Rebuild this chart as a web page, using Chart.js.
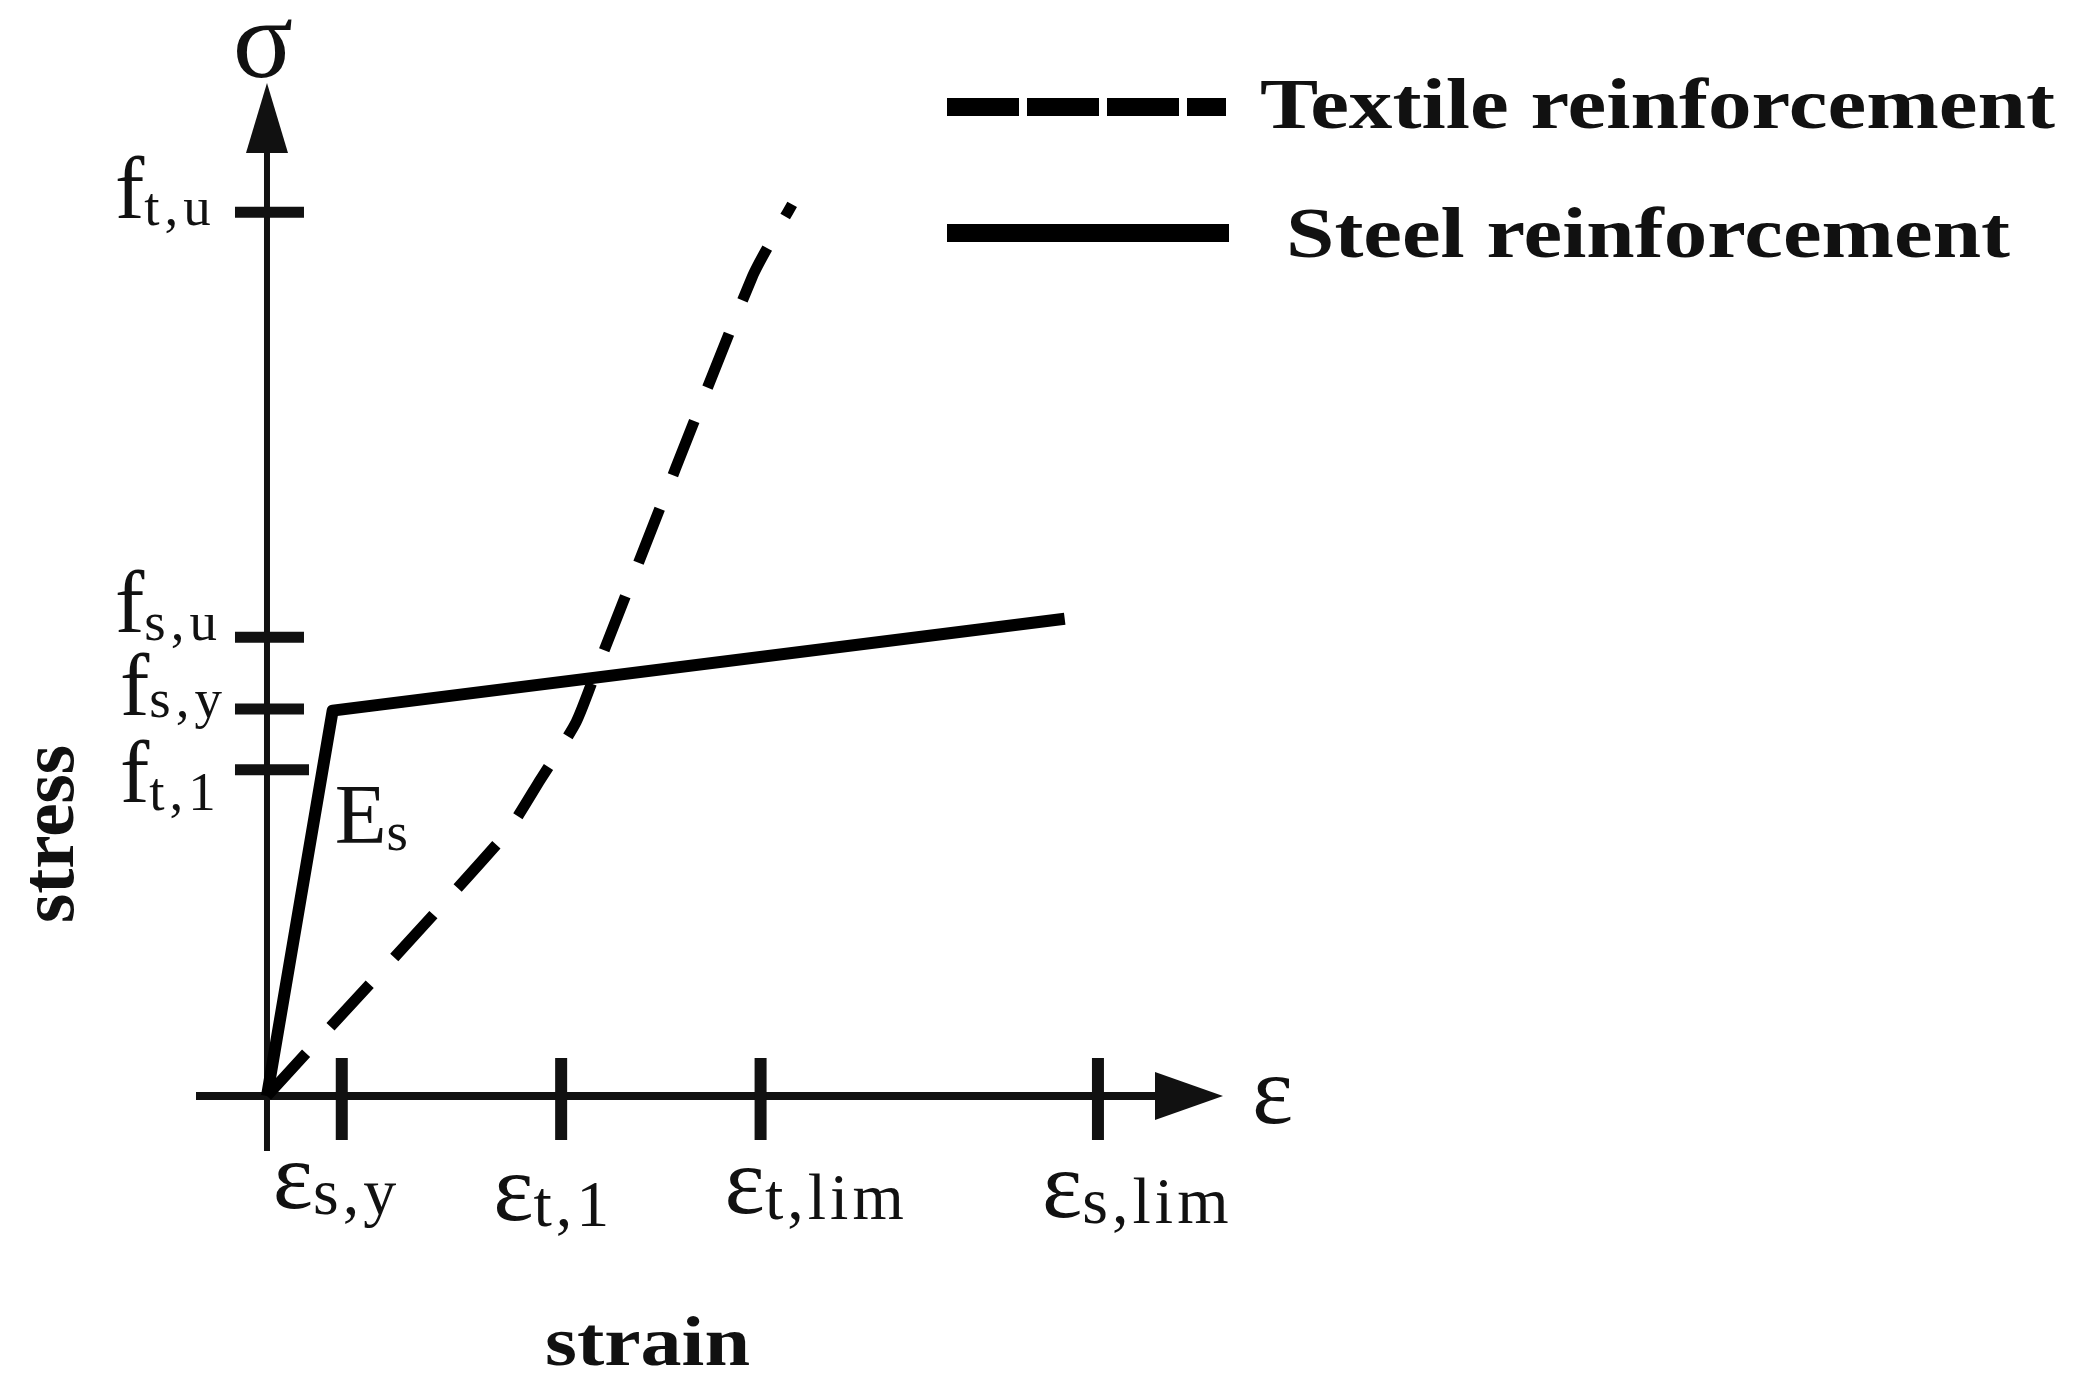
<!DOCTYPE html>
<html>
<head>
<meta charset="utf-8">
<script src="https://cdn.jsdelivr.net/npm/chart.js@4.4.1/dist/chart.umd.min.js"></script>
<style>
    html, body { margin: 0; padding: 0; background: #fff; }
    canvas { display: block; }
</style>
</head>
<body>
<canvas id="grafica" width="2076" height="1398"></canvas>
<script>
// Datos del diagrama (unidades esquemáticas: ε_s,lim = 10, f_t,u = 10)
const strainSteel = [0, 0.79, 9.60];
const stressSteel = [0, 4.36, 5.40];

const strainTextile = [0, 2.86, 3.29, 3.72, 4.01, 5.84, 6.32];
const stressTextile = [0, 2.95, 3.58, 4.23, 4.93, 9.27, 10.09];

const strainTicks = [0.90, 3.54, 5.94, 10.0];
const strainTickSub = ['s,y', 't,1', 't,lim', 's,lim'];

const stressTicks = [10.0, 5.19, 4.38, 3.69];
const stressTickSub = ['t,u', 's,u', 's,y', 't,1'];

const seriesNames = ['Textile reinforcement', 'Steel reinforcement'];

// Rango de las escalas (el área del gráfico ocupa todo el lienzo)
const X_MIN = -3.213, X_MAX = 21.77;
const Y_MIN = -3.418, Y_MAX = 12.402;

// Ajustes de maquetación de las etiquetas (px)
const xLabelDx = [-69, -68, -36, -56];
const xLabelBase = [112, 124, 117, 121];
const yLabelLeft = [115, 115, 120, 120];
const yLabelDy = [6, -5, 6, 32];
const ySubDy = [7, 8, 2, 8];

const SERIF = '"Liberation Serif", "Times New Roman", serif';

function toPoints(xs, ys) {
    return xs.map((x, i) => ({ x: x, y: ys[i] }));
}

function textoSub(ctx, x, y, main, sub, mainSize, subSize, subDy, spacing) {
    ctx.font = `${mainSize}px ${SERIF}`;
    ctx.letterSpacing = '0px';
    ctx.textAlign = 'left';
    ctx.textBaseline = 'alphabetic';
    ctx.fillText(main, x, y);
    const w = ctx.measureText(main).width;
    ctx.font = `${subSize}px ${SERIF}`;
    ctx.letterSpacing = spacing + 'px';
    ctx.fillText(sub, x + w, y + subDy);
    ctx.letterSpacing = '0px';
}

function textoAncho(ctx, txt, x, y, size, width) {
    ctx.font = `bold ${size}px ${SERIF}`;
    const w = ctx.measureText(txt).width;
    ctx.save();
    ctx.translate(x, y);
    ctx.scale(width / w, 1);
    ctx.textAlign = 'left';
    ctx.textBaseline = 'alphabetic';
    ctx.fillText(txt, 0, 0);
    ctx.restore();
}

const ejesPlugin = {
    id: 'ejes',
    beforeDraw(chart) {
        const ctx = chart.ctx;
        ctx.save();
        ctx.fillStyle = '#fff';
        ctx.fillRect(0, 0, chart.width, chart.height);
        ctx.restore();
    },
    beforeDatasetsDraw(chart) {
        const ctx = chart.ctx;
        const sx = chart.scales.x, sy = chart.scales.y;
        const ox = sx.getPixelForValue(0), oy = sy.getPixelForValue(0);
        ctx.save();
        ctx.strokeStyle = '#111';
        ctx.fillStyle = '#111';
        ctx.lineCap = 'butt';

        // eje y
        ctx.lineWidth = 6;
        ctx.beginPath();
        ctx.moveTo(ox, oy + 55);
        ctx.lineTo(ox, 150);
        ctx.stroke();
        ctx.beginPath();
        ctx.moveTo(ox, 83);
        ctx.lineTo(ox - 21, 153);
        ctx.lineTo(ox + 21, 153);
        ctx.closePath();
        ctx.fill();

        // eje x
        ctx.lineWidth = 8;
        ctx.beginPath();
        ctx.moveTo(196, oy);
        ctx.lineTo(1160, oy);
        ctx.stroke();
        ctx.beginPath();
        ctx.moveTo(1223, oy);
        ctx.lineTo(1155, oy - 24);
        ctx.lineTo(1155, oy + 24);
        ctx.closePath();
        ctx.fill();

        // marcas del eje x
        ctx.lineWidth = 12;
        strainTicks.forEach(v => {
            const px = sx.getPixelForValue(v);
            ctx.beginPath();
            ctx.moveTo(px, oy - 38);
            ctx.lineTo(px, oy + 44);
            ctx.stroke();
        });

        // marcas del eje y
        ctx.lineWidth = 11;
        stressTicks.forEach((v, i) => {
            const py = sy.getPixelForValue(v);
            ctx.beginPath();
            ctx.moveTo(ox - 32, py);
            ctx.lineTo(ox + (i === 3 ? 42 : 37), py);
            ctx.stroke();
        });
        ctx.restore();
    },
    afterDatasetsDraw(chart) {
        const ctx = chart.ctx;
        const sx = chart.scales.x, sy = chart.scales.y;
        const ox = sx.getPixelForValue(0), oy = sy.getPixelForValue(0);
        ctx.save();
        ctx.fillStyle = '#111';

        // símbolos de los ejes
        ctx.font = `112px ${SERIF}`;
        ctx.textAlign = 'center';
        ctx.textBaseline = 'alphabetic';
        ctx.fillText('σ', ox - 4, 77);
        ctx.font = `98px ${SERIF}`;
        ctx.textAlign = 'left';
        ctx.fillText('ε', 1252, oy + 27);

        // etiquetas del eje x
        strainTicks.forEach((v, i) => {
            const px = sx.getPixelForValue(v);
            textoSub(ctx, px + xLabelDx[i], oy + xLabelBase[i], 'ε', strainTickSub[i], 96, 66, 6, 4);
        });

        // etiquetas del eje y
        stressTicks.forEach((v, i) => {
            const py = sy.getPixelForValue(v);
            textoSub(ctx, yLabelLeft[i], py + yLabelDy[i], 'f', stressTickSub[i], 88, 55, ySubDy[i], 5);
        });

        // módulo E_s junto al punto de fluencia
        const cx = sx.getPixelForValue(strainSteel[1]);
        const cy = sy.getPixelForValue(stressSteel[1]);
        textoSub(ctx, cx + 2, cy + 132, 'E', 's', 85, 55, 7, 0);

        // títulos de los ejes
        textoAncho(ctx, 'strain', 545, 1365, 70, 205);
        ctx.save();
        ctx.translate(73, 834);
        ctx.rotate(-Math.PI / 2);
        ctx.font = `bold 70px ${SERIF}`;
        const ws = ctx.measureText('stress').width;
        ctx.scale(178 / ws, 1.1);
        ctx.textAlign = 'center';
        ctx.fillText('stress', 0, 0);
        ctx.restore();

        // leyenda
        ctx.strokeStyle = '#000';
        ctx.lineWidth = 18;
        ctx.setLineDash([72, 8]);
        ctx.beginPath();
        ctx.moveTo(947, 107);
        ctx.lineTo(1226, 107);
        ctx.stroke();
        ctx.setLineDash([]);
        ctx.beginPath();
        ctx.moveTo(947, 233);
        ctx.lineTo(1229, 233);
        ctx.stroke();

        textoAncho(ctx, seriesNames[0], 1260, 128, 72, 795);
        textoAncho(ctx, seriesNames[1], 1286, 257, 72, 724);
        ctx.restore();
    }
};

function dibujar() {
    const ctx = document.getElementById('grafica').getContext('2d');
    new Chart(ctx, {
        type: 'scatter',
        data: {
            datasets: [{
                label: seriesNames[0],
                data: toPoints(strainTextile, stressTextile),
                showLine: true,
                borderColor: '#000',
                borderWidth: 11,
                borderDash: [58, 36],
                borderCapStyle: 'butt',
                tension: 0.2,
                pointRadius: 0,
                fill: false
            }, {
                label: seriesNames[1],
                data: toPoints(strainSteel, stressSteel),
                showLine: true,
                borderColor: '#000',
                borderWidth: 12,
                borderJoinStyle: 'round',
                tension: 0,
                pointRadius: 0,
                fill: false
            }]
        },
        options: {
            responsive: false,
            animation: false,
            layout: { padding: 0 },
            plugins: {
                legend: { display: false },
                tooltip: { enabled: false }
            },
            scales: {
                x: { type: 'linear', min: X_MIN, max: X_MAX, display: false },
                y: { type: 'linear', min: Y_MIN, max: Y_MAX, display: false }
            }
        },
        plugins: [ejesPlugin]
    });
}

// Esperar a que las fuentes locales estén listas
Promise.all([
    document.fonts.load('88px "Liberation Serif"', 'fσε'),
    document.fonts.load('bold 72px "Liberation Serif"', 'Textile')
]).then(dibujar, dibujar);
</script>
</body>
</html>
